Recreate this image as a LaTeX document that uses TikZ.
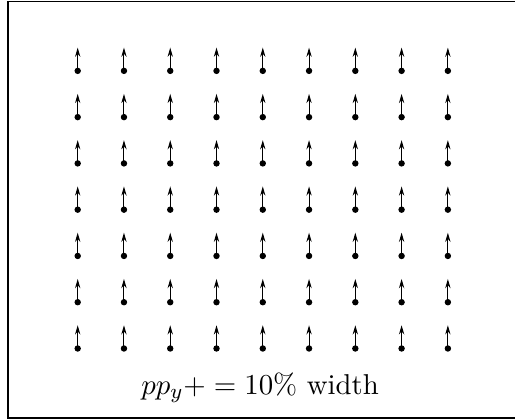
\documentclass[tikz,border=0pt]{standalone}
\usetikzlibrary{arrows.meta}
\begin{document}
\begin{tikzpicture}[vec/.style={-{Stealth[length=3.5pt,width=2pt]}}]
    \useasboundingbox (0,0) rectangle (6.867,5.587);
    % Frame
    \begin{scope}
        \clip (0,0) rectangle (6.867,5.587);
        \draw (0.107,0.013) rectangle (6.9,5.573);
    \end{scope}
    
    % Vectors
    \foreach \i in {0,...,8} {
        \foreach \j in {0,...,6} {
            \draw[vec] (1.036+0.617*\i, 0.94+0.617*\j) -- ++(0, 0.31);
            \filldraw[black] (1.036+0.617*\i, 0.94+0.617*\j) circle (1pt);
        }
    }
    
    % Label
    \node[anchor=base, font=\fontsize{10.9}{13}\selectfont] (label) at (3.467, 0.329) {$pp_y+ = 10\%$ width};
    
\end{tikzpicture}
\end{document}
